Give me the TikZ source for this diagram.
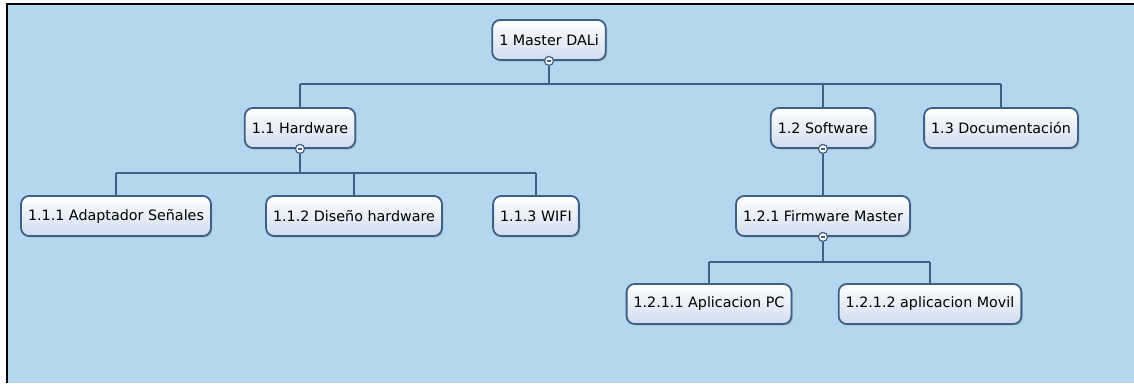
\documentclass[tikz,border=0pt]{standalone}
\usepackage{fontspec}
\setmainfont{DejaVu Sans}
\usetikzlibrary{shadows}
\definecolor{bgblue}{HTML}{B3D7EE}
\definecolor{lineblue}{HTML}{3E5F86}
\definecolor{boxbot}{HTML}{CFDDEE}
\tikzset{
  wbsbox/.style={draw=lineblue,line width=1.8pt,rounded corners=8pt,
    top color=white,bottom color=boxbot,minimum height=40pt,inner xsep=7pt,
    font=\fontsize{14.3}{16}\selectfont,
    drop shadow={shadow xshift=1.5pt,shadow yshift=-1.5pt,opacity=0.35}},
  conn/.style={draw=lineblue,line width=2pt},
  collapse/.style={circle,draw=lineblue,line width=1.2pt,fill=white,inner sep=0pt,
    minimum size=9pt,path picture={\draw[lineblue,line width=1.2pt]
    ([xshift=-2.4pt]path picture bounding box.center) --
    ([xshift=2.4pt]path picture bounding box.center);}}
}
\begin{document}
\begin{tikzpicture}[x=1pt,y=-1pt]
\useasboundingbox (0,0) rectangle (1134,383);
\fill[white] (0,0) rectangle (1134,383);
\fill[bgblue] (6,3) rectangle (1134,383);
\draw[black,line width=2pt] (7,383) -- (7,4) -- (1134,4);

\node[wbsbox] (root) at (549,40) {1 Master DALi};
\node[wbsbox] (hw) at (300,128) {1.1 Hardware};
\node[wbsbox] (sw) at (823,128) {1.2 Software};
\node[wbsbox] (doc) at (1001,128) {1.3 Documentación};
\node[wbsbox] (adapt) at (116,216) {1.1.1 Adaptador Señales};
\node[wbsbox] (dis) at (354,216) {1.1.2 Diseño hardware};
\node[wbsbox] (wifi) at (536,216) {1.1.3 WIFI};
\node[wbsbox] (fw) at (823,216) {1.2.1 Firmware Master};
\node[wbsbox] (pc) at (709,304) {1.2.1.1 Aplicacion PC};
\node[wbsbox] (movil) at (930,304) {1.2.1.2 aplicacion Movil};

\node[collapse] (rootc) at (root.south) {};
\node[collapse] (hwc) at (hw.south) {};
\node[collapse] (swc) at (sw.south) {};
\node[collapse] (fwc) at (fw.south) {};

\coordinate (bar1) at (0,84);
\coordinate (bar2) at (0,173);
\coordinate (bar3) at (0,262);

% level 1
\draw[conn] (rootc.south) -- (rootc.south |- bar1);
\draw[conn] (hw.north |- bar1) -- (doc.north |- bar1);
\foreach \n in {hw,sw,doc}
  \draw[conn] (\n.north |- bar1) -- (\n.north);
% level 2
\draw[conn] (hwc.south) -- (hwc.south |- bar2);
\draw[conn] (adapt.north |- bar2) -- (wifi.north |- bar2);
\foreach \n in {adapt,dis,wifi}
  \draw[conn] (\n.north |- bar2) -- (\n.north);
\draw[conn] (swc.south) -- (fw.north);
% level 3
\draw[conn] (fwc.south) -- (fwc.south |- bar3);
\draw[conn] (pc.north |- bar3) -- (movil.north |- bar3);
\foreach \n in {pc,movil}
  \draw[conn] (\n.north |- bar3) -- (\n.north);
\end{tikzpicture}
\end{document}
